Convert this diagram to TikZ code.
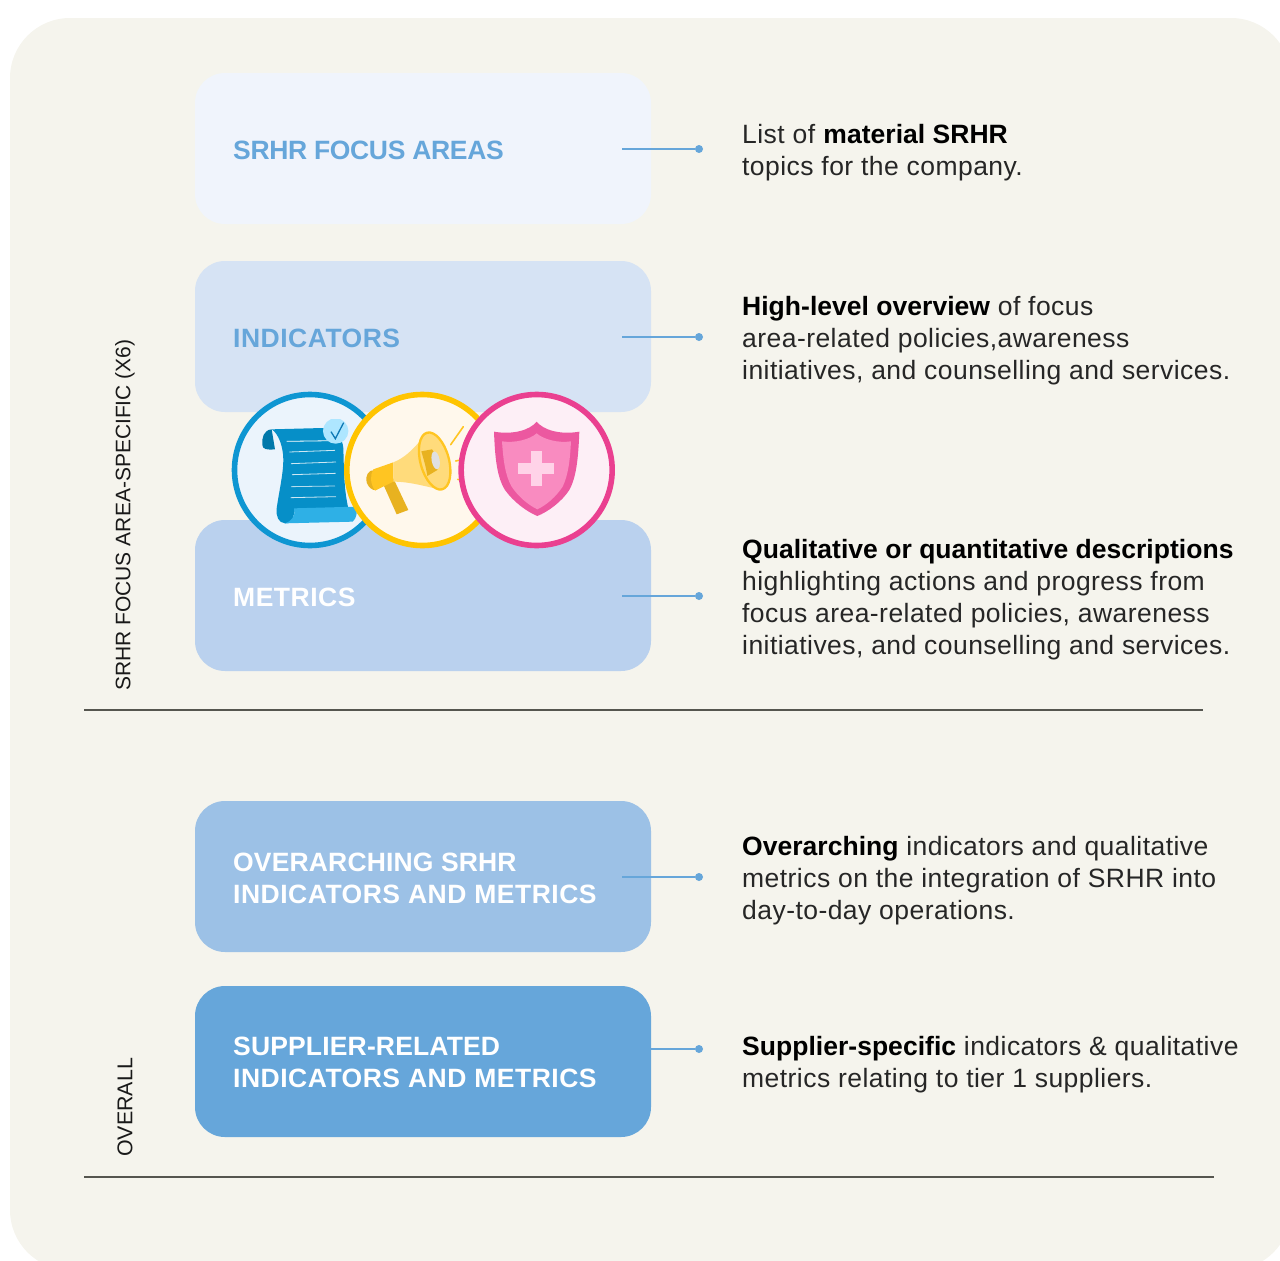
\documentclass[tikz,border=0pt]{standalone}
\usepackage{fontspec}
\setmainfont[LetterSpace=1.7,BoldFeatures={LetterSpace=0.1}]{Liberation Sans}
\newfontfamily\lblfont[LetterSpace=1.9]{Liberation Sans}
\newfontfamily\lbltight[LetterSpace=0.6]{Liberation Sans}
\newfontfamily\lblfocus[LetterSpace=-1.4]{Liberation Sans}
\newfontfamily\sidefont[LetterSpace=0]{Liberation Sans}
\definecolor{panel}{HTML}{F5F4ED}
\definecolor{boxa}{HTML}{F0F4FC}
\definecolor{boxb}{HTML}{D6E3F4}
\definecolor{boxc}{HTML}{BAD1EE}
\definecolor{boxd}{HTML}{9CC1E6}
\definecolor{boxe}{HTML}{66A6DA}
\definecolor{rulec}{HTML}{55554F}
\definecolor{bfill}{HTML}{EBF4FC}
\definecolor{bring}{HTML}{0E96D2}
\definecolor{bdark}{HTML}{0078AA}
\definecolor{bmid}{HTML}{068FC8}
\definecolor{blight}{HTML}{2EB0E6}
\definecolor{bbadge}{HTML}{AEE6FF}
\definecolor{btick}{HTML}{0E78B4}
\definecolor{yfill}{HTML}{FFF8EC}
\definecolor{yring}{HTML}{FFC400}
\definecolor{ydark}{HTML}{E8B220}
\definecolor{ymid}{HTML}{FFC522}
\definecolor{ylight}{HTML}{FFDB7B}
\definecolor{ygrey}{HTML}{E0E0E0}
\definecolor{pfill}{HTML}{FDEFF6}
\definecolor{pring}{HTML}{EA4090}
\definecolor{pmid}{HTML}{EC58A0}
\definecolor{plight}{HTML}{F98BC0}
\definecolor{pcross}{HTML}{FFD3E8}
\tikzset{
  card/.style={rectangle,rounded corners=30pt,minimum width=456pt,minimum height=151pt,inner sep=0pt},
  cardtext/.style={anchor=west,inner sep=0pt,align=left,font=\fontsize{26.5}{32}\selectfont},
  desc/.style={anchor=north west,inner sep=0pt,align=left,text=black!85,font=\fontsize{26.5}{32}\selectfont},
  sidelabel/.style={rotate=90,anchor=west,inner sep=0pt,text=black!90},
  tipdot/.style={circle,fill=boxe,inner sep=0pt,minimum size=8pt},
  lead/.style={draw=boxe,line width=1.2pt},
  sep/.style={draw=rulec,line width=1.2pt},
  ring/.style={line width=5.6pt},
}
\newcommand{\strongt}[1]{\textbf{\color{black}#1}}
\begin{document}
\begin{tikzpicture}[x=1pt,y=-1pt]
\useasboundingbox (0,0) rectangle (1280,1261);
\clip (0,0) rectangle (1280,1261);
\fill[panel,rounded corners=60pt] (10,18) rectangle (1291,1270);

\node[card,fill=boxa] (focus) at (423,148.5) {};
\node[card,fill=boxb] (ind) at (423,336.5) {};
\node[card,fill=boxc] (met) at (423,595.5) {};
\node[card,fill=boxd] (over) at (423,876.5) {};
\node[card,fill=boxe] (supp) at (423,1061.5) {};

\node[cardtext,text=boxe] (focust) at (233,150) {\lblfocus\bfseries SRHR FOCUS AREAS};
\node[cardtext,text=boxe] (indt) at (233,338) {\lblfont\bfseries INDICATORS};
\node[cardtext,text=white] (mett) at (233,597) {\lblfont\bfseries METRICS};
\node[cardtext,text=white] (overt) at (233,878.5) {{\lbltight\bfseries OVERARCHING SRHR}\\{\lblfont\bfseries INDICATORS AND METRICS}};
\node[cardtext,text=white] (suppt) at (233,1062.5) {{\lbltight\bfseries SUPPLIER-RELATED}\\{\lblfont\bfseries INDICATORS AND METRICS}};

\node[tipdot] (d1) at (699,149) {};
\node[tipdot] (d2) at (699,337) {};
\node[tipdot] (d3) at (699,596) {};
\node[tipdot] (d4) at (699,877) {};
\node[tipdot] (d5) at (699,1049) {};
\coordinate (s1) at (622,149);
\coordinate (s2) at (622,337);
\coordinate (s3) at (622,596);
\coordinate (s4) at (622,877);
\coordinate (s5) at (622,1049);
\draw[lead] (s1) -- (d1);
\draw[lead] (s2) -- (d2);
\draw[lead] (s3) -- (d3);
\draw[lead] (s4) -- (d4);
\draw[lead] (s5) -- (d5);

\node[desc] (t1) at (742,124) {List of \strongt{material SRHR}\\topics for the company.};
\node[desc] (t2) at (742,296) {\strongt{High-level overview} of focus\\area-related policies,awareness\\initiatives, and counselling and services.};
\node[desc] (t3) at (742,539) {\strongt{Qualitative or quantitative descriptions}\\highlighting actions and progress from\\focus area-related policies, awareness\\initiatives, and counselling and services.};
\node[desc] (t4) at (742,836) {\strongt{Overarching} indicators and qualitative\\metrics on the integration of SRHR into\\day-to-day operations.};
\node[desc] (t5) at (742,1036) {\strongt{Supplier-specific} indicators \& qualitative\\metrics relating to tier 1 suppliers.};

\node[sidelabel,font=\sidefont\fontsize{21}{26}\selectfont] (l1) at (125,691) {SRHR FOCUS AREA-SPECIFIC (X6)};
\node[sidelabel,font=\sidefont\fontsize{21.4}{26}\selectfont] (l2) at (125,1157) {OVERALL};

\coordinate (ra) at (84,710);
\coordinate (rb) at (1203,710);
\coordinate (rc) at (84,1177);
\coordinate (rd) at (1214,1177);
\draw[sep] (ra) -- (rb);
\draw[sep] (rc) -- (rd);

% icons, in coordinates of a 3x crop
\begin{scope}[shift={(220,380)},x=.33333pt,y=-.33333pt]
  % blue
  \draw[ring,fill=bfill,draw=bring] (270,270) circle[radius=75.5pt];
  \fill[bdark] (155,148) .. controls (130,150) and (125,175) .. (127,195) .. controls (128,208) and (140,210) .. (165,208) -- cycle;
  \fill[bmid] (155,148) -- (308,144) .. controls (345,160) and (368,170) .. (370,205) .. controls (372,270) and (372,330) .. (385,385) -- (225,390) -- (215,428) -- (195,430) .. controls (175,428) and (168,410) .. (170,385) .. controls (178,330) and (190,280) .. (190,240) .. controls (190,200) and (175,160) .. (155,148) -- cycle;
  \fill[blight] (222,385) -- (408,380) .. controls (413,395) and (410,415) .. (398,425) -- (195,430) .. controls (215,425) and (228,405) .. (222,385) -- cycle;
  \begin{scope}[line width=.8pt,draw=white]
    \draw (200,184) -- (342,182);
    \draw[opacity=.8] (208,216) -- (345,211);
    \draw[opacity=.8] (213,251) -- (348,246);
    \draw[opacity=.8] (216,284) -- (347,280);
    \draw[opacity=.7] (213,320) -- (345,318);
    \draw[opacity=.8] (212,353) -- (348,350);
  \end{scope}
  \begin{scope}
    \clip (300,117) rectangle (400,200);
    \fill[bbadge] (347,153) circle[radius=12.7pt];
  \end{scope}
  \draw[line width=1.3pt,draw=btick] (333,155) -- (346,176) -- (371,128);
  % yellow
  \draw[ring,fill=yfill,draw=yring] (607,270) circle[radius=75.5pt];
  \fill[ydark] (484,300) -- (520,295) -- (565,390) -- (530,403) -- cycle;
  \fill[ydark,rounded corners=4pt] (462,266) -- (440,280) -- (438,310) -- (460,334) -- (480,325) -- cycle;
  \fill[ymid] (460,268) -- (520,247) -- (520,305) -- (465,332) .. controls (450,310) and (450,285) .. (460,268) -- cycle;
  \fill[ylight] (520,247) .. controls (550,235) and (575,215) .. (615,165) -- (665,330) .. controls (620,320) and (570,305) .. (520,305) -- cycle;
  \draw[line width=2.3pt,fill=ylight,draw=ymid,rotate around={15:(644,243)}] (644,243) ellipse[x radius=14.3pt,y radius=29.3pt];
  \fill[ydark] (604,214) -- (636,208) .. controls (655,235) and (660,255) .. (652,270) -- (622,288) .. controls (618,260) and (610,235) .. (604,214) -- cycle;
  \fill[ygrey,rotate around={10:(647,241)}] (647,241) ellipse[x radius=4pt,y radius=9pt];
  \begin{scope}[line width=1.6pt,draw=ymid,line cap=round]
    \draw (692,194) -- (730,140);
    \draw (707,243) -- (725,239);
    \draw (713,298) -- (725,301);
  \end{scope}
  % pink
  \draw[ring,fill=pfill,draw=pring] (950,270) circle[radius=75.5pt];
  \fill[pmid] (950,125) .. controls (930,150) and (880,165) .. (822,155) .. controls (825,230) and (830,290) .. (855,330) .. controls (880,365) and (920,395) .. (952,408) .. controls (985,395) and (1025,365) .. (1048,330) .. controls (1070,290) and (1075,230) .. (1078,155) .. controls (1020,165) and (970,150) .. (950,125) -- cycle;
  \fill[plight] (950,160) .. controls (930,178) and (885,190) .. (846,184) .. controls (850,240) and (855,285) .. (875,320) .. controls (895,350) and (925,375) .. (952,388) .. controls (980,375) and (1008,350) .. (1028,320) .. controls (1045,285) and (1050,240) .. (1053,184) .. controls (1015,190) and (970,178) .. (950,160) -- cycle;
  \fill[pcross] (933,212) rectangle (965,318);
  \fill[pcross] (895,250) rectangle (1002,282);
\end{scope}
\end{tikzpicture}
\end{document}
